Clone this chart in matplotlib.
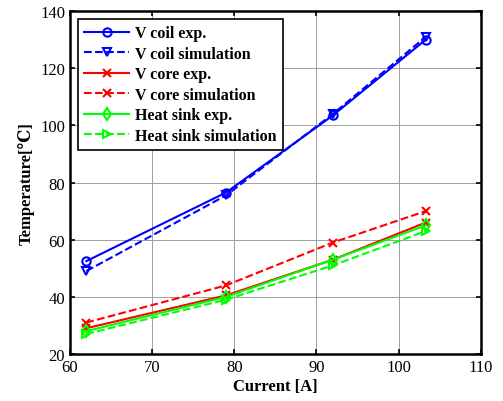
import matplotlib
matplotlib.use("Agg")
import matplotlib.pyplot as plt

current = [62, 79, 92, 103.3]
vcoil_exp = [52.5, 76.5, 103.5, 130]
vcoil_sim = [49, 75.5, 104, 131]
vcore_exp = [29, 40.5, 53, 66]
vcore_sim = [31, 44, 59, 70]
hs_exp = [28, 40, 53, 65]
hs_sim = [27, 39, 51, 63]

plt.rcParams['font.family'] = ['Liberation Serif', 'DejaVu Serif']

fig = plt.figure(figsize=(5.03, 4.02), dpi=100)
ax = fig.add_axes([0.139, 0.117, 0.817, 0.853])

lw = 1.5
ms = 6
ax.plot(current, vcoil_exp, '-', color='#0000ff', marker='o', mfc='none', ms=ms, lw=lw, mew=1.5, label='V coil exp.')
ax.plot(current, vcoil_sim, '--', color='#0000ff', marker='v', mfc='none', ms=ms, lw=lw, mew=1.5, label='V coil simulation')
ax.plot(current, vcore_exp, '-', color='#ff0000', marker='x', mfc='none', ms=ms, lw=lw, mew=1.5, label='V core exp.')
ax.plot(current, vcore_sim, '--', color='#ff0000', marker='x', mfc='none', ms=ms, lw=lw, mew=1.5, label='V core simulation')
ax.plot(current, hs_exp, '-', color='#00ff00', marker='d', mfc='none', ms=ms, lw=lw, mew=1.5, label='Heat sink exp.')
ax.plot(current, hs_sim, '--', color='#00ff00', marker='>', mfc='none', ms=ms, lw=lw, mew=1.5, label='Heat sink simulation')

ax.set_xlim(60, 110)
ax.set_ylim(20, 140)
ax.set_xticks([60, 70, 80, 90, 100, 110])
ax.set_yticks([20, 40, 60, 80, 100, 120, 140])
ax.grid(True, color='#a0a0a0', lw=0.7)
ax.tick_params(direction='in', top=True, right=True, labelsize=12, width=1.2)
for s in ax.spines.values():
    s.set_linewidth(1.8)

ax.set_xlabel('Current [A]', fontsize=12, fontweight='bold', labelpad=2)
ax.set_ylabel('Temperature[℃]', fontsize=12, fontweight='bold', labelpad=4)

leg = ax.legend(loc='upper left', prop={'weight': 'bold', 'size': 11.5},
                fancybox=False, edgecolor='black', framealpha=1,
                borderaxespad=0.5, handlelength=2.8, labelspacing=0.28, borderpad=0.4,
                handletextpad=0.4)
leg.get_frame().set_linewidth(1.2)

fig.savefig('out.png', dpi=100)
